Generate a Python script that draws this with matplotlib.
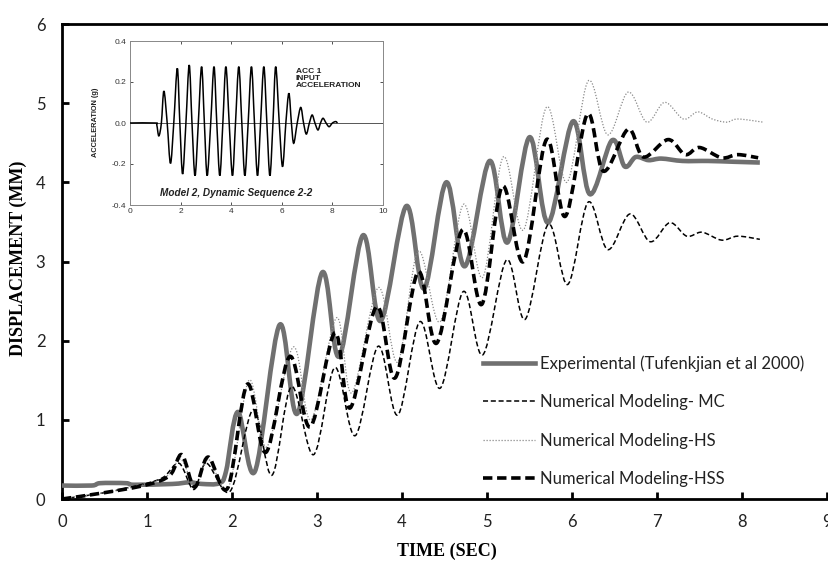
import matplotlib
matplotlib.use("Agg")
import matplotlib.pyplot as plt
from matplotlib.path import Path
from matplotlib.patches import PathPatch
from matplotlib.lines import Line2D

# ---------------- data ----------------
exp_t = [0.0, 0.35, 0.45, 0.75, 0.85, 1.3, 1.5, 1.65, 1.85, 1.93, 2.07, 2.27,
         2.56, 2.77, 3.06, 3.26, 3.54, 3.75, 4.05, 4.26, 4.52, 4.74, 5.03, 5.24,
         5.50, 5.72, 6.01, 6.21, 6.47, 6.62, 6.75, 6.90, 7.05, 7.30, 7.60, 7.90,
         8.21]
exp_v = [0.17, 0.17, 0.20, 0.20, 0.18, 0.19, 0.21, 0.19, 0.20, 0.35, 1.10, 0.35,
         2.20, 1.08, 2.86, 1.80, 3.33, 2.25, 3.70, 2.66, 4.00, 2.94, 4.27, 3.24,
         4.57, 3.49, 4.77, 3.85, 4.53, 4.20, 4.32, 4.28, 4.30, 4.27, 4.27, 4.26,
         4.25]

mc_t = [0.0, 0.5, 1.0, 1.2, 1.38, 1.55, 1.70, 1.98, 2.25, 2.47, 2.70, 2.96,
        3.21, 3.45, 3.72, 3.95, 4.21, 4.45, 4.72, 4.95, 5.23, 5.45, 5.72, 5.95,
        6.19, 6.42, 6.68, 6.92, 7.15, 7.35, 7.53, 7.76, 7.95, 8.21]
mc_v = [0.0, 0.08, 0.20, 0.28, 0.45, 0.12, 0.45, 0.10, 1.13, 0.30, 1.42, 0.56,
        1.66, 0.80, 1.93, 1.06, 2.24, 1.40, 2.62, 1.82, 3.02, 2.27, 3.47, 2.71,
        3.75, 3.15, 3.60, 3.25, 3.49, 3.32, 3.37, 3.27, 3.32, 3.28]

hs_t = [0.0, 0.5, 1.0, 1.25, 1.40, 1.57, 1.72, 1.96, 2.20, 2.41, 2.72, 2.93,
        3.23, 3.41, 3.72, 3.95, 4.19, 4.45, 4.72, 4.95, 5.19, 5.43, 5.70, 5.94,
        6.19, 6.42, 6.66, 6.88, 7.09, 7.31, 7.48, 7.65, 7.82, 7.95, 8.25]
hs_v = [0.0, 0.08, 0.19, 0.30, 0.50, 0.15, 0.50, 0.15, 1.50, 0.66, 1.92, 1.00,
        2.29, 1.34, 2.67, 1.73, 3.13, 2.24, 3.72, 2.80, 4.32, 3.40, 4.95, 4.00,
        5.28, 4.60, 5.14, 4.76, 5.01, 4.80, 4.89, 4.80, 4.76, 4.80, 4.76]

hss_t = [0.0, 0.5, 1.0, 1.27, 1.41, 1.56, 1.72, 1.95, 2.18, 2.40, 2.68, 2.92,
         3.21, 3.39, 3.70, 3.92, 4.19, 4.41, 4.71, 4.94, 5.18, 5.43, 5.70, 5.92,
         6.18, 6.37, 6.66, 6.84, 7.13, 7.33, 7.50, 7.76, 7.95, 8.19]
hss_v = [0.0, 0.08, 0.18, 0.30, 0.56, 0.15, 0.53, 0.14, 1.45, 0.59, 1.80, 0.91,
         2.10, 1.15, 2.43, 1.53, 2.87, 1.97, 3.40, 2.46, 3.95, 3.00, 4.54, 3.57,
         4.86, 4.14, 4.67, 4.32, 4.54, 4.35, 4.44, 4.31, 4.35, 4.31]

labels = ["Experimental (Tufenkjian et al 2000)",
          "Numerical Modeling- MC",
          "Numerical Modeling-HS",
          "Numerical Modeling-HSS"]

# input acceleration (inset): extrema and zero crossings
acc_t = [0.0, 1.0, 1.06, 1.14, 1.24, 1.34, 1.47, 1.60, 1.73, 1.87, 1.97, 2.08,
         2.21, 2.34, 2.45, 2.57, 2.70, 2.83, 2.94, 3.05, 3.19, 3.32, 3.43, 3.55,
         3.67, 3.79, 3.92, 4.05, 4.17, 4.30, 4.42, 4.54, 4.67, 4.80, 4.92, 5.04,
         5.16, 5.29, 5.41, 5.53, 5.65, 5.76, 5.90, 6.03, 6.16, 6.28, 6.38, 6.47,
         6.61, 6.75, 6.86, 6.97, 7.09, 7.20, 7.31, 7.43, 7.53, 7.63, 7.75, 7.87,
         8.00, 8.13, 8.20]
acc_v = [0.0, 0.0, -0.01, -0.063, 0.0, 0.156, 0.0, -0.197, 0.0, 0.267, 0.0, -0.249,
         0.0, 0.283, 0.0, -0.257, 0.0, 0.275, 0.0, -0.257, 0.0, 0.275, 0.0, -0.257,
         0.0, 0.275, 0.0, -0.257, 0.0, 0.275, 0.0, -0.257, 0.0, 0.275, 0.0, -0.257,
         0.0, 0.275, 0.0, -0.257, 0.0, 0.275, 0.0, -0.213, 0.0, 0.145, 0.0, -0.099,
         0.0, 0.076, 0.0, -0.054, 0.0, 0.039, 0.0, -0.034, 0.0, 0.023, 0.0, -0.018,
         0.0, 0.007, 0.0]


def smooth_path(xs, ys):
    """Smoothed line through the data points (Catmull-Rom drawn as Bezier)."""
    pts = list(zip(xs, ys))
    verts = [pts[0]]
    codes = [Path.MOVETO]
    n = len(pts)
    for i in range(n - 1):
        p0 = pts[i - 1] if i > 0 else pts[i]
        p1 = pts[i]
        p2 = pts[i + 1]
        p3 = pts[i + 2] if i + 2 < n else pts[i + 1]
        c1 = (p1[0] + (p2[0] - p0[0]) / 6.0, p1[1] + (p2[1] - p0[1]) / 6.0)
        c2 = (p2[0] - (p3[0] - p1[0]) / 6.0, p2[1] - (p3[1] - p1[1]) / 6.0)
        verts += [c1, c2, p2]
        codes += [Path.CURVE4] * 3
    return Path(verts, codes)


# ---------------- figure ----------------
W, H = 829, 561
fig = plt.figure(figsize=(W / 100, H / 100), dpi=100)
fig.patch.set_facecolor("white")


def fx(px):
    return px / W


def fy(py):
    return 1 - py / H


ax = fig.add_axes([fx(62), fy(499), fx(827) - fx(62), fy(24) - fy(499)])
ax.set_xlim(0, 9)
ax.set_ylim(0, 6)

styles = [
    dict(color="#707070", lw=3.3, ls="-", z=3),
    dict(color="black", lw=1.1, ls=(0, (3.3, 1.8)), z=4),
    dict(color="#8a8a8a", lw=0.9, ls=(0, (1, 1.4)), z=4),
    dict(color="black", lw=2.6, ls=(0, (2.6, 1.3)), z=5),
]
series = [(exp_t, exp_v), (mc_t, mc_v), (hs_t, hs_v), (hss_t, hss_v)]
handles = []
for (xs, ys), st, lab in zip(series, styles, labels):
    patch = PathPatch(smooth_path(xs, ys), facecolor="none",
                      edgecolor=st["color"], lw=st["lw"], linestyle=st["ls"],
                      joinstyle="round", capstyle="butt", zorder=st["z"])
    ax.add_patch(patch)
    handles.append(Line2D([], [], color=st["color"], lw=st["lw"],
                          linestyle=st["ls"], label=lab))

for s in ["left", "bottom", "top"]:
    ax.spines[s].set_linewidth(2.0)
    ax.spines[s].set_color("black")
ax.spines["right"].set_visible(False)

ax.set_xticks(range(0, 10))
ax.set_yticks(range(0, 7))
ax.tick_params(axis="both", direction="in", length=5, width=2,
               labelsize=12, colors="black")
ax.tick_params(axis="x", pad=11)
ax.tick_params(axis="y", pad=12)
for lab in ax.get_xticklabels() + ax.get_yticklabels():
    lab.set_fontfamily(["Lato", "DejaVu Sans"])
    lab.set_color("#222222")

fig.text(fx(18), fy(258), "DISPLACEMENT (MM)", rotation=90, ha="center",
         va="center", family="Liberation Serif", weight="bold", fontsize=13)
fig.text(fx(447), fy(551), "TIME (SEC)", ha="center", va="center",
         family="Liberation Serif", weight="bold", fontsize=13)

leg = ax.legend(handles=handles, loc="upper left",
                bbox_to_anchor=(fx(483), fy(355)),
                bbox_transform=fig.transFigure, frameon=False,
                prop={"family": ["Lato", "DejaVu Sans"], "size": 12},
                handlelength=3.1, handletextpad=0.3, labelspacing=1.35,
                borderpad=0, borderaxespad=0)
for t in leg.get_texts():
    t.set_color("#222222")

# ---------------- inset ----------------
ins = fig.add_axes([fx(130), fy(205), fx(383) - fx(130), fy(41) - fy(205)])
ins.set_facecolor("white")
ins.add_patch(PathPatch(smooth_path(acc_t, acc_v), facecolor="none",
                        edgecolor="black", lw=1.1, zorder=3))
ins.axhline(0, color="#555555", lw=0.7, zorder=2)
ins.set_xlim(0, 10)
ins.set_ylim(-0.4, 0.4)
ins.set_xticks([0, 2, 4, 6, 8, 10])
ins.set_yticks([-0.4, -0.2, 0.0, 0.2, 0.4])
ins.set_yticklabels(["-0.4", "-0.2", "0.0", "0.2", "0.4"])
ins.tick_params(direction="in", length=2, width=0.6, labelsize=6,
                top=True, right=True, pad=2.5, colors="#333333")
for lab in ins.get_xticklabels() + ins.get_yticklabels():
    lab.set_fontfamily("Liberation Sans")
for s in ins.spines.values():
    s.set_linewidth(0.7)
    s.set_color("#888888")
fig.text(fx(96), fy(122), "ACCELERATION (g)", rotation=90, ha="center",
         va="center", family="Liberation Sans", weight="bold", fontsize=5.3,
         color="#222222")
ins.text(6.55, 0.27, "ACC 1\nINPUT\nACCELERATION", ha="left", va="top",
         family="Liberation Sans", weight="bold", fontsize=6,
         linespacing=1.05, color="#222222")
ins.text(1.2, -0.34, "Model 2, Dynamic Sequence 2-2", ha="left",
         va="center", family="Liberation Sans", weight="bold",
         style="italic", fontsize=7.2, color="#222222")

fig.savefig("out.png", dpi=100, facecolor="white")
